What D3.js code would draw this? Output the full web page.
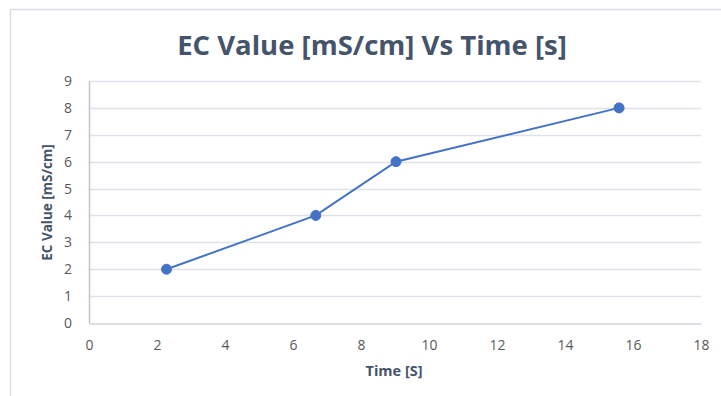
<!DOCTYPE html>
<html><head><meta charset="utf-8">
<script src="https://cdn.jsdelivr.net/npm/d3@7"></script>
<style>body{margin:0;background:#fff}svg{display:block}</style>
</head><body>
<script>
const timeValues = [2.28, 6.67, 9.03, 15.59];
const ecValues = [2, 4, 6, 8];
const xTicks = [0, 2, 4, 6, 8, 10, 12, 14, 16, 18];
const yTicks = [0, 1, 2, 3, 4, 5, 6, 7, 8, 9];
const titleText = "EC Value [mS/cm] Vs Time [s]";
const xTitle = "Time [S]";
const yTitle = "EC Value [mS/cm]";

const W = 721, H = 396;
const svg = d3.select("body").append("svg").attr("width", W).attr("height", H);
const font = "'Open Sans', 'Liberation Sans', sans-serif";

// outer chart border (partly visible)
svg.append("path").attr("d", "M10.5,396 V9.5 H721").attr("fill", "none").attr("stroke", "#d9dde3").attr("stroke-width", 1.5);

const x = d3.scaleLinear().domain([0, 18]).range([89, 701]);
const y = d3.scaleLinear().domain([0, 9]).range([323, 81]);

// gridlines
svg.append("g").selectAll("line").data(yTicks.slice(1)).join("line")
  .attr("x1", x(0)).attr("x2", x(18))
  .attr("y1", d => Math.round(y(d)) + 0.5).attr("y2", d => Math.round(y(d)) + 0.5)
  .attr("stroke", "#dde1e8").attr("stroke-width", 1.3);

// axes
const xAxis = svg.append("g").attr("transform", `translate(0,${Math.round(y(0)) + 0.5})`)
  .call(d3.axisBottom(x).tickValues(xTicks).tickSize(0).tickPadding(17).tickFormat(d3.format("d")));
xAxis.select(".domain").attr("stroke", "#d0d6de").attr("stroke-width", 1.5);
xAxis.selectAll("text").attr("font-family", font).attr("font-size", 14).attr("fill", "#595959");

const yAxis = svg.append("g").attr("transform", `translate(${x(0)},0)`)
  .call(d3.axisLeft(y).tickValues(yTicks).tickSize(0).tickPadding(17).tickFormat(d3.format("d")));
yAxis.select(".domain").attr("stroke", "#bcc4d0").attr("stroke-width", 1.5);
yAxis.selectAll("text").attr("font-family", font).attr("font-size", 14).attr("fill", "#595959");

// title
svg.append("text").attr("x", 372).attr("y", 55).attr("text-anchor", "middle")
  .attr("font-family", font).attr("font-weight", "bold").attr("font-size", 27.5)
  .attr("fill", "#44546a").text(titleText);

// axis titles
svg.append("text").attr("x", 394).attr("y", 376).attr("text-anchor", "middle")
  .attr("font-family", font).attr("font-weight", "bold").attr("font-size", 14.5)
  .attr("fill", "#44546a").text(xTitle);
svg.append("text").attr("transform", `translate(52,${(143 + 262) / 2}) rotate(-90)`).attr("text-anchor", "middle")
  .attr("font-family", font).attr("font-weight", "bold").attr("font-size", 13.5)
  .attr("fill", "#44546a").text(yTitle);

// series
const pts = timeValues.map((t, i) => [t, ecValues[i]]);
svg.append("path").datum(pts)
  .attr("d", d3.line().x(d => x(d[0])).y(d => y(d[1])))
  .attr("fill", "none").attr("stroke", "#4472c4").attr("stroke-width", 2);
svg.append("g").selectAll("circle").data(pts).join("circle")
  .attr("cx", d => x(d[0])).attr("cy", d => y(d[1])).attr("r", 5)
  .attr("fill", "#4472c4").attr("stroke", "#4472c4");
</script>
</body></html>
